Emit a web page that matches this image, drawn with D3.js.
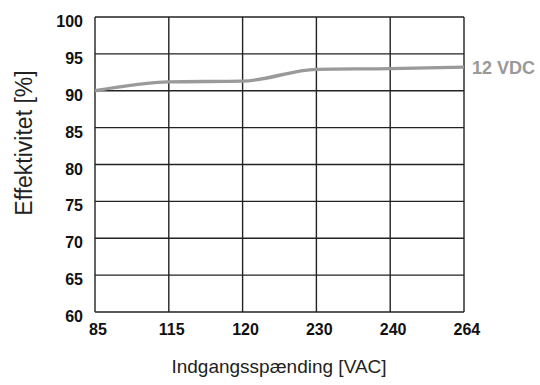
<!DOCTYPE html>
<html>
<head>
<meta charset="utf-8">
<script src="https://cdn.jsdelivr.net/npm/d3@7"></script>
<style>
  html, body { margin: 0; padding: 0; background: #fff; }
  svg { display: block; font-family: "Liberation Sans", Arial, sans-serif; }
</style>
</head>
<body>
<svg id="chart" width="540" height="385"></svg>
<script>
// Input voltage categories (VAC) and efficiency readings (%)
const voltages = ["85", "115", "120", "230", "240", "264"];
const efficiency12V = [90.0, 91.2, 91.3, 92.9, 93.0, 93.2];
const yTicks = [60, 65, 70, 75, 80, 85, 90, 95, 100];
const seriesName = "12 VDC";

const svg = d3.select("#chart");
const margin = { left: 95, right: 76, top: 17, bottom: 73 };
const W = 540, H = 385;

const x = d3.scalePoint().domain(voltages).range([margin.left, W - margin.right]);
const y = d3.scaleLinear().domain([60, 100]).range([H - margin.bottom, margin.top]);

// Grid lines
const grid = svg.append("g").attr("stroke", "#222").attr("stroke-width", 1.4);
grid.selectAll("line.h").data(yTicks).join("line")
  .attr("x1", margin.left).attr("x2", W - margin.right)
  .attr("y1", d => y(d)).attr("y2", d => y(d));
grid.selectAll("line.v").data(voltages).join("line")
  .attr("y1", y(60)).attr("y2", y(100))
  .attr("x1", d => x(d)).attr("x2", d => x(d));

// Y axis labels
const yAxis = svg.append("g").attr("transform", `translate(${margin.left},0)`)
  .call(d3.axisLeft(y).tickValues(yTicks).tickSize(0).tickPadding(12));
yAxis.select(".domain").remove();
yAxis.selectAll("text").attr("font-size", 16).attr("font-weight", "bold")
  .attr("fill", "#111").attr("dy", "0.6em")
  .attr("font-family", "Liberation Sans, Arial, sans-serif");

// X axis labels
const xAxis = svg.append("g").attr("transform", `translate(0,${y(60)})`)
  .call(d3.axisBottom(x).tickSize(0).tickPadding(12));
xAxis.select(".domain").remove();
xAxis.selectAll("text").attr("font-size", 16).attr("font-weight", "bold")
  .attr("fill", "#111").attr("dx", "0.15em")
  .attr("font-family", "Liberation Sans, Arial, sans-serif");

// Efficiency curve
const line = d3.line()
  .x((d, i) => x(voltages[i]))
  .y(d => y(d))
  .curve(d3.curveMonotoneX);
svg.append("path").datum(efficiency12V)
  .attr("d", line)
  .attr("fill", "none")
  .attr("stroke", "#9a9a9a")
  .attr("stroke-width", 3.4);

// Series label
svg.append("text")
  .attr("x", x(voltages[voltages.length - 1]) + 8)
  .attr("y", 73.5)
  .attr("font-size", 18).attr("font-weight", "bold")
  .attr("fill", "#999")
  .text(seriesName);

// Axis titles
svg.append("text")
  .attr("x", 279)
  .attr("y", 373)
  .attr("text-anchor", "middle")
  .attr("font-size", 19).attr("fill", "#222")
  .text("Indgangsspænding [VAC]");

svg.append("text")
  .attr("transform", "translate(32,143) rotate(-90)")
  .attr("text-anchor", "middle")
  .attr("font-size", 23).attr("fill", "#222")
  .text("Effektivitet [%]");
</script>
</body>
</html>
